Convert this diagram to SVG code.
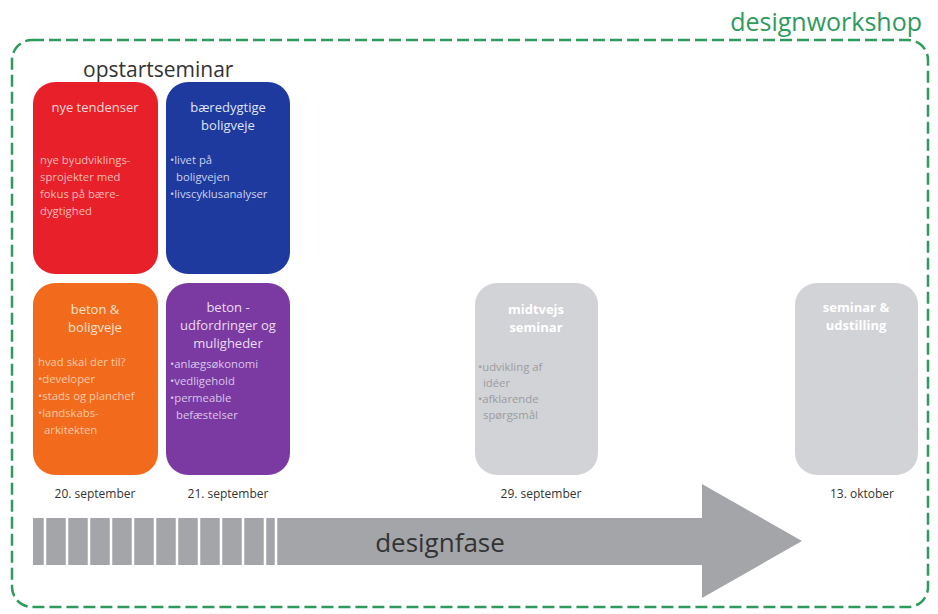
<svg xmlns="http://www.w3.org/2000/svg" width="938" height="614" viewBox="0 0 938 614">
<style>
text{font-family:"Open Sans","Liberation Sans",sans-serif}
.ttl{font-size:13px;text-anchor:middle}
.bd{font-size:11.3px}
.date{font-size:12px;fill:#333;text-anchor:middle}
.stripe{stroke:#fff;stroke-width:2.5}
</style>
<rect width="938" height="614" fill="#fff"/>
<rect x="12" y="40" width="916" height="567" rx="20" fill="none" stroke="#2f9a5c" stroke-width="2.5" stroke-dasharray="12 5"/>
<text x="922" y="31" font-size="25" fill="#2f9a5c" text-anchor="end">designworkshop</text>
<text x="83" y="77" font-size="21" fill="#333">opstartseminar</text>

<g id="nye-tendenser">
<rect x="33" y="82" width="125" height="192" rx="22" fill="#e8202a"/>
<text class="ttl" x="95" y="112" fill="#fbd6d6">nye tendenser</text>
<text class="bd" fill="#f7b9b9"><tspan x="40" y="164">nye byudviklings-</tspan><tspan x="40" y="181">sprojekter med</tspan><tspan x="40" y="198">fokus på bære-</tspan><tspan x="40" y="215">dygtighed</tspan></text>
</g>
<g id="baeredygtige-boligveje">
<rect x="166" y="82" width="124" height="192" rx="22" fill="#1f3a9e"/>
<text class="ttl" x="228" y="112" fill="#dfe4f7"><tspan x="228">bæredygtige</tspan><tspan x="228" dy="18">boligveje</tspan></text>
<text class="bd" fill="#c9d1f0"><tspan x="170" y="164">•livet på</tspan><tspan x="176" y="181">boligvejen</tspan><tspan x="170" y="198">•livscyklusanalyser</tspan></text>
</g>
<g id="beton-boligveje">
<rect x="33" y="283" width="125" height="192" rx="22" fill="#f26b1d"/>
<text class="ttl" x="95" y="314" fill="#fde0cc"><tspan x="95">beton &amp;</tspan><tspan x="95" dy="18">boligveje</tspan></text>
<text class="bd" fill="#fbc9a6"><tspan x="38" y="366">hvad skal der til?</tspan><tspan x="38" y="383">•developer</tspan><tspan x="38" y="400">•stads og planchef</tspan><tspan x="38" y="417">•landskabs-</tspan><tspan x="44" y="434">arkitekten</tspan></text>
</g>
<g id="beton-udfordringer">
<rect x="166" y="283" width="124" height="192" rx="22" fill="#7a3aa2"/>
<text class="ttl" x="228" y="312" fill="#eadcf4"><tspan x="228">beton -</tspan><tspan x="228" dy="18">udfordringer og</tspan><tspan x="228" dy="18">muligheder</tspan></text>
<text class="bd" fill="#d9c6ea"><tspan x="170" y="368">•anlægsøkonomi</tspan><tspan x="170" y="385">•vedligehold</tspan><tspan x="170" y="402">•permeable</tspan><tspan x="176" y="419">befæstelser</tspan></text>
</g>
<g id="midtvejs-seminar">
<rect x="475" y="283" width="123" height="192" rx="22" fill="#d2d3d6"/>
<text class="ttl" x="536" y="314" fill="#fff" font-weight="bold"><tspan x="536">midtvejs</tspan><tspan x="536" dy="18">seminar</tspan></text>
<text class="bd" fill="#9c9ca0"><tspan x="478" y="371">•udvikling af</tspan><tspan x="483" y="387">idéer</tspan><tspan x="478" y="403">•afklarende</tspan><tspan x="483" y="419">spørgsmål</tspan></text>
</g>
<g id="seminar-udstilling">
<rect x="795" y="283" width="123" height="192" rx="22" fill="#d2d3d6"/>
<text class="ttl" x="856" y="312" fill="#fff" font-weight="bold"><tspan x="856">seminar &amp;</tspan><tspan x="856" dy="18">udstilling</tspan></text>
</g>

<g id="dates">
<text class="date" x="95" y="498">20. september</text>
<text class="date" x="228" y="498">21. september</text>
<text class="date" x="541" y="498">29. september</text>
<text class="date" x="862" y="498">13. oktober</text>
</g>

<g id="designfase">
<polygon points="33,518 702,518 702,484 802,541 702,598 702,565 33,565" fill="#a4a5a9"/>
<g class="stripe">
<line x1="45" y1="518" x2="45" y2="565"/>
<line x1="67" y1="518" x2="67" y2="565"/>
<line x1="89" y1="518" x2="89" y2="565"/>
<line x1="111" y1="518" x2="111" y2="565"/>
<line x1="133" y1="518" x2="133" y2="565"/>
<line x1="155" y1="518" x2="155" y2="565"/>
<line x1="177" y1="518" x2="177" y2="565"/>
<line x1="199" y1="518" x2="199" y2="565"/>
<line x1="221" y1="518" x2="221" y2="565"/>
<line x1="243" y1="518" x2="243" y2="565"/>
<line x1="265" y1="518" x2="265" y2="565"/>
<line x1="276" y1="518" x2="276" y2="565"/>
</g>
<text x="440" y="552" font-size="26" fill="#333" text-anchor="middle">designfase</text>
</g>
</svg>
